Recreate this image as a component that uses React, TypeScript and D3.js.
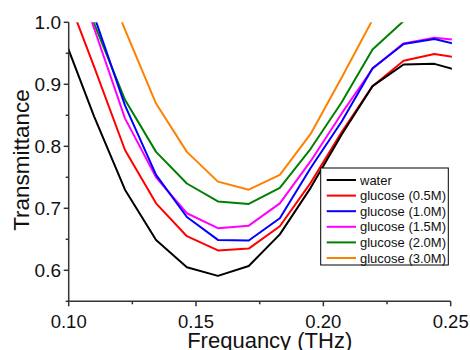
import React from "react";
import * as d3 from "d3";

const freq = [0.0978, 0.11, 0.1221, 0.1343, 0.1464, 0.1586, 0.1707, 0.1829, 0.195, 0.2072, 0.2193, 0.2315, 0.2436, 0.2558];
const water = [0.979, 0.848, 0.73, 0.649, 0.605, 0.591, 0.607, 0.658, 0.733, 0.819, 0.897, 0.932, 0.933, 0.919];
const glucose05 = [1.06, 0.928, 0.794, 0.708, 0.655, 0.632, 0.635, 0.671, 0.741, 0.823, 0.897, 0.938, 0.949, 0.941];
const glucose10 = [1.155, 1.01, 0.866, 0.754, 0.686, 0.649, 0.648, 0.684, 0.765, 0.84, 0.926, 0.965, 0.973, 0.961];
const glucose15 = [1.134, 0.99, 0.845, 0.75, 0.692, 0.668, 0.672, 0.708, 0.776, 0.853, 0.925, 0.966, 0.975, 0.97];
const glucose20 = [1.123, 0.998, 0.875, 0.791, 0.74, 0.711, 0.707, 0.733, 0.796, 0.871, 0.956, 1.002, 1.04, 1.06];
const glucose30 = [1.24, 1.113, 0.988, 0.869, 0.791, 0.743, 0.73, 0.754, 0.82, 0.911, 1.004, 1.08, 1.12, 1.14];

const seriesNames = ["water", "glucose (0.5M)", "glucose (1.0M)", "glucose (1.5M)", "glucose (2.0M)", "glucose (3.0M)"];
const seriesValues = [water, glucose05, glucose10, glucose15, glucose20, glucose30];
const seriesColors = ["#000000", "#ff0000", "#0000ff", "#ff00ff", "#008000", "#ff8000"];

const xMajorTicks = [0.1, 0.15, 0.2, 0.25];
const xMinorTicks = [0.125, 0.175, 0.225];
const yMajorTicks = [0.6, 0.7, 0.8, 0.9, 1.0];
const yMinorTicks = [0.55, 0.65, 0.75, 0.85, 0.95];

const W = 470;
const H = 350;
const left = 68.7;
const right = 450.7;
const top = 22.3;
const bottom = 301.3;

export default function App() {
  const x = d3.scaleLinear().domain([0.1, 0.25]).range([left, right]);
  const y = d3.scaleLinear().domain([0.55, 1.0]).range([bottom, top]);
  const line = d3
    .line<[number, number]>()
    .x((d) => x(d[0]))
    .y((d) => y(d[1]));

  const axisColor = "#333";
  const font = "Arial, 'Liberation Sans', sans-serif";
  const drawOrder = [5, 4, 3, 2, 1, 0];

  const legX = 320.7;
  const legY = 168;
  const legW = 127.6;
  const legH = 97;
  const legRow = 15.6;

  return (
    <svg width={W} height={H} style={{ position: "absolute", left: 0, top: 0, background: "#fff" }}>
      <defs>
        <clipPath id="plotClip">
          <rect x={left} y={top} width={right - left + 1.2} height={bottom - top} />
        </clipPath>
      </defs>
      <rect x={0} y={0} width={W} height={H} fill="#fff" />
      <g clipPath="url(#plotClip)">
        {drawOrder.map((i) => (
          <path
            key={i}
            d={line(freq.map((f, k) => [f, seriesValues[i][k]]) as [number, number][]) || ""}
            fill="none"
            stroke={seriesColors[i]}
            strokeWidth={2}
            strokeLinejoin="round"
          />
        ))}
      </g>
      {/* axes */}
      <line x1={left} x2={left} y1={top} y2={bottom} stroke={axisColor} strokeWidth={1.5} />
      <line x1={left} x2={right} y1={bottom} y2={bottom} stroke={axisColor} strokeWidth={1.5} />
      {yMajorTicks.map((t) => (
        <g key={"ym" + t}>
          <line x1={left - 5} x2={left} y1={y(t)} y2={y(t)} stroke={axisColor} strokeWidth={1.5} />
          <text x={61} y={y(t)} dy="0.36em" textAnchor="end" fontSize={19} fontFamily={font} fill="#111">
            {t.toFixed(1)}
          </text>
        </g>
      ))}
      {yMinorTicks.map((t) => (
        <line key={"yn" + t} x1={left - 3} x2={left} y1={y(t)} y2={y(t)} stroke={axisColor} strokeWidth={1.5} />
      ))}
      {xMajorTicks.map((t) => (
        <g key={"xm" + t}>
          <line x1={x(t)} x2={x(t)} y1={bottom} y2={bottom + 5} stroke={axisColor} strokeWidth={1.5} />
          <text x={x(t)} y={328} textAnchor="middle" fontSize={18.5} fontFamily={font} fill="#111">
            {t.toFixed(2)}
          </text>
        </g>
      ))}
      {xMinorTicks.map((t) => (
        <line key={"xn" + t} x1={x(t)} x2={x(t)} y1={bottom} y2={bottom + 3} stroke={axisColor} strokeWidth={1.5} />
      ))}
      <text x={269.7} y={347.5} textAnchor="middle" fontSize={22} fontFamily={font} fill="#111">
        Frequancy (THz)
      </text>
      <text
        transform="translate(29,160) rotate(-90)"
        textAnchor="middle"
        fontSize={22.5}
        fontFamily={font}
        fill="#111"
      >
        Transmittance
      </text>
      {/* legend */}
      <rect x={legX} y={legY} width={legW} height={legH} fill="#fff" stroke="#000" strokeWidth={1} />
      {seriesNames.map((name, i) => {
        const cy = legY + 12 + i * legRow;
        return (
          <g key={name}>
            <line x1={326.7} x2={356} y1={cy} y2={cy} stroke={seriesColors[i]} strokeWidth={2} />
            <text x={360} y={cy} dy="0.36em" fontSize={13} fontFamily={font} fill="#111">
              {name}
            </text>
          </g>
        );
      })}
    </svg>
  );
}
